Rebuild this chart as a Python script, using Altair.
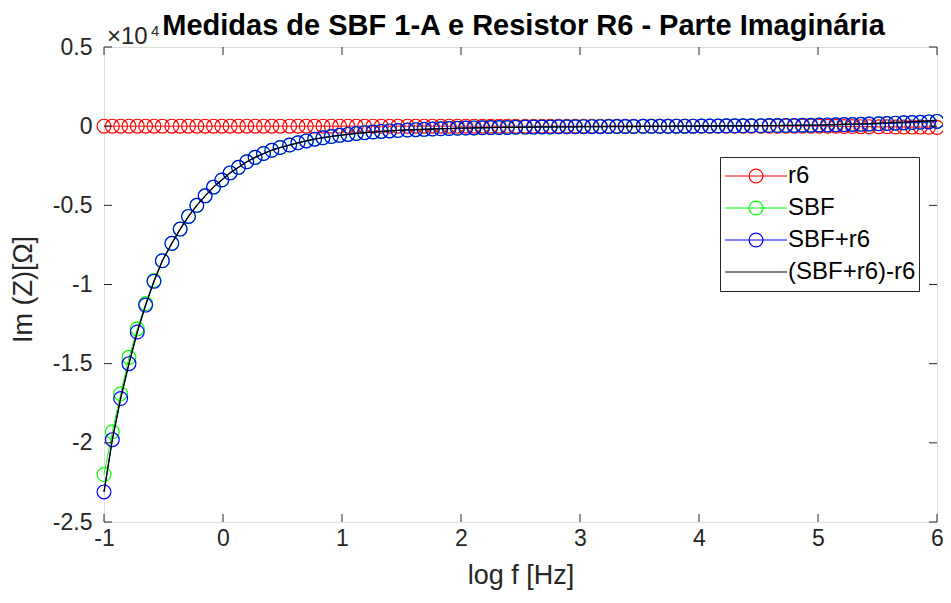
import altair as alt
import pandas as pd

# ---------------- data (Im(Z) in units of 10^4 Ohm) ----------------
log_f = [
    -1.00, -0.93, -0.86, -0.79, -0.72, -0.65, -0.58, -0.51, -0.43, -0.36,
    -0.29, -0.22, -0.15, -0.08, -0.01, 0.06, 0.13, 0.20, 0.27, 0.34,
    0.41, 0.48, 0.56, 0.63, 0.70, 0.77, 0.84, 0.91, 0.98, 1.05,
    1.12, 1.19, 1.26, 1.33, 1.40, 1.47, 1.55, 1.62, 1.69, 1.76,
    1.83, 1.90, 1.97, 2.04, 2.11, 2.18, 2.25, 2.32, 2.39, 2.46,
    2.54, 2.61, 2.68, 2.75, 2.82, 2.89, 2.96, 3.03, 3.10, 3.17,
    3.24, 3.31, 3.38, 3.45, 3.53, 3.60, 3.67, 3.74, 3.81, 3.88,
    3.95, 4.02, 4.09, 4.16, 4.23, 4.30, 4.37, 4.44, 4.52, 4.59,
    4.66, 4.73, 4.80, 4.87, 4.94, 5.01, 5.08, 5.15, 5.22, 5.29,
    5.36, 5.43, 5.51, 5.58, 5.65, 5.72, 5.79, 5.86, 5.93, 6.00,
]

im_r6 = [
    0.000, 0.000, 0.000, 0.000, 0.000, 0.000, 0.000, 0.000, 0.000, 0.000,
    0.000, 0.000, 0.000, 0.000, 0.000, 0.000, 0.000, 0.000, 0.000, 0.000,
    0.000, 0.000, 0.000, 0.000, 0.000, 0.000, 0.000, 0.000, 0.000, 0.000,
    0.000, 0.000, 0.000, 0.000, 0.000, 0.000, 0.000, 0.000, 0.000, 0.000,
    0.000, 0.000, 0.000, 0.000, 0.000, 0.000, 0.000, 0.000, 0.000, 0.000,
    0.000, 0.000, 0.000, 0.000, 0.000, 0.000, 0.000, 0.000, 0.000, 0.000,
    0.000, 0.000, 0.000, 0.000, 0.000, 0.000, 0.000, 0.000, 0.000, 0.000,
    0.000, 0.000, 0.000, 0.000, 0.000, 0.000, 0.000, 0.000, 0.000, 0.000,
    0.000, 0.000, 0.000, 0.000, 0.000, 0.000, -0.001, -0.001, -0.002, -0.002,
    -0.003, -0.003, -0.004, -0.004, -0.005, -0.005, -0.006, -0.006, -0.007, -0.008,
]

im_sbf = [
    -2.20, -1.93, -1.69, -1.46, -1.28, -1.12, -0.975, -0.85, -0.74, -0.65,
    -0.57, -0.50, -0.44, -0.385, -0.34, -0.295, -0.26, -0.225, -0.197, -0.173,
    -0.152, -0.135, -0.119, -0.105, -0.093, -0.082, -0.073, -0.065, -0.058, -0.052,
    -0.046, -0.041, -0.037, -0.033, -0.030, -0.027, -0.024, -0.022, -0.020, -0.018,
    -0.016, -0.015, -0.013, -0.012, -0.011, -0.010, -0.009, -0.008, -0.008, -0.007,
    -0.006, -0.006, -0.005, -0.005, -0.004, -0.004, -0.004, -0.003, -0.003, -0.003,
    -0.002, -0.002, -0.002, -0.002, -0.001, -0.001, -0.001, -0.001, 0.000, 0.000,
    0.000, 0.001, 0.001, 0.001, 0.002, 0.002, 0.002, 0.003, 0.003, 0.004,
    0.004, 0.005, 0.005, 0.006, 0.006, 0.007, 0.008, 0.009, 0.010, 0.011,
    0.012, 0.013, 0.015, 0.017, 0.019, 0.021, 0.023, 0.025, 0.027, 0.030,
]

im_sbf_r6 = [
    -2.31, -1.98, -1.72, -1.50, -1.30, -1.13, -0.98, -0.85, -0.74, -0.65,
    -0.57, -0.50, -0.44, -0.385, -0.34, -0.295, -0.26, -0.225, -0.197, -0.173,
    -0.152, -0.135, -0.119, -0.105, -0.093, -0.082, -0.073, -0.065, -0.058, -0.052,
    -0.046, -0.041, -0.037, -0.033, -0.030, -0.027, -0.024, -0.022, -0.020, -0.018,
    -0.016, -0.015, -0.013, -0.012, -0.011, -0.010, -0.009, -0.008, -0.008, -0.007,
    -0.006, -0.006, -0.005, -0.005, -0.004, -0.004, -0.004, -0.003, -0.003, -0.003,
    -0.002, -0.002, -0.002, -0.002, -0.001, -0.001, -0.001, -0.001, 0.000, 0.000,
    0.000, 0.001, 0.001, 0.001, 0.002, 0.002, 0.002, 0.003, 0.003, 0.004,
    0.004, 0.005, 0.005, 0.006, 0.006, 0.007, 0.008, 0.009, 0.010, 0.011,
    0.012, 0.013, 0.015, 0.017, 0.019, 0.021, 0.023, 0.025, 0.027, 0.030,
]

# (SBF+r6) - r6
im_diff = [a - b for a, b in zip(im_sbf_r6, im_r6)]

series_names = ["r6", "SBF", "SBF+r6", "(SBF+r6)-r6"]
series_colors = ["#ff0000", "#00ff00", "#0000ff", "#000000"]
x_ticks = [-1, 0, 1, 2, 3, 4, 5, 6]
y_ticks = [-2.5, -2, -1.5, -1, -0.5, 0, 0.5]
exponent_text = ["\u00d710", "4"]
title_text = "Medidas de SBF 1-A e Resistor R6 - Parte Imagin\u00e1ria"

rows = []
for name, vals in zip(series_names, [im_r6, im_sbf, im_sbf_r6, im_diff]):
    for xv, yv in zip(log_f, vals):
        rows.append({"logf": xv, "im": yv, "series": name})
df = pd.DataFrame(rows)

# ---------------- styling ----------------
W, H = 833, 475
FONT = "Liberation Sans"
AX = "#262626"
TICK = 8
TICK_FS = 23
AXT_FS = 27
LEG_FS = 24

minus_expr = "datum.value < 0 ? '-' + format(-datum.value, '~g') : format(datum.value, '~g')"

x_scale = alt.Scale(domain=[-1, 6], nice=False, zero=False)
y_scale = alt.Scale(domain=[-2.5, 0.5], nice=False, zero=False)

x_axis = alt.Axis(
    values=x_ticks, ticks=False, domain=False, grid=False, labelFlush=False,
    labelFont=FONT, labelFontSize=TICK_FS, labelColor=AX, labelPadding=5,
    labelExpr=minus_expr,
    title="log f [Hz]", titleFont=FONT, titleFontSize=AXT_FS, titleFontWeight="normal",
    titleColor=AX, titleX=W / 2, titleY=61, titleAlign="center",
    titleBaseline="alphabetic",
)
y_axis = alt.Axis(
    values=y_ticks, ticks=False, domain=False, grid=False, labelFlush=False,
    labelFont=FONT, labelFontSize=TICK_FS, labelColor=AX, labelPadding=12,
    labelExpr=minus_expr,
    title="Im (Z)[\u03a9]", titleFont=FONT, titleFontSize=AXT_FS, titleFontWeight="normal",
    titleColor=AX, titleX=-81, titleY=242, titleAngle=270, titleAlign="center",
    titleBaseline="middle",
)

X = alt.X("logf:Q", scale=x_scale, axis=x_axis)
Y = alt.Y("im:Q", scale=y_scale, axis=y_axis)

LEG_X, LEG_Y = 616, 110

# framed legend: line symbols only (empty labels; the offset sets the frame width)
line_legend = alt.Legend(
    orient="none", legendX=LEG_X, legendY=LEG_Y, title=None,
    symbolType="M-3.875,0H3.875", symbolSize=256, symbolStrokeWidth=1,
    symbolOffset=17, labelOffset=144, labelFont=FONT, labelFontSize=LEG_FS,
    labelExpr="''", rowPadding=8, padding=7,
    fillColor="#ffffff", strokeColor=AX, zindex=1,
)
# unframed legend on top: circle markers and the visible labels
point_legend = alt.Legend(
    orient="none", legendX=LEG_X, legendY=LEG_Y, title=None,
    symbolType="circle", symbolSize=190, symbolStrokeWidth=1.2,
    symbolFillColor="transparent", symbolOffset=17, labelOffset=20,
    labelFont=FONT, labelFontSize=LEG_FS, labelColor="#000000",
    rowPadding=8, padding=7, zindex=2,
)

# marker legend keys carry a trailing space so the two legends stay separate
marker_keys = [n + " " for n in series_names]
color_scale = alt.Scale(domain=series_names, range=series_colors)
stroke_scale = alt.Scale(domain=marker_keys, range=series_colors[:3] + ["transparent"])

base = alt.Chart(df)
layers = []
for name in series_names:
    sub = base.transform_filter(alt.datum.series == name)
    layers.append(
        sub.mark_line(strokeWidth=1 if name != "(SBF+r6)-r6" else 1.3).encode(
            x=X, y=Y, order="logf:Q",
            color=alt.Color("series:N", scale=color_scale, legend=line_legend),
        )
    )
    if name != "(SBF+r6)-r6":
        layers.append(
            sub.transform_calculate(mkey="datum.series + ' '")
            .mark_point(filled=False, size=190, strokeWidth=1.2, opacity=1).encode(
                x=X, y=Y,
                stroke=alt.Stroke("mkey:N", scale=stroke_scale, legend=point_legend),
            )
        )

# inward ticks on all four sides (MATLAB box style)
xt = pd.DataFrame({"logf": x_ticks})
yt = pd.DataFrame({"im": y_ticks})
tick_layers = [
    alt.Chart(xt).mark_rule(color=AX, strokeWidth=1).encode(x=X, y=alt.value(H), y2=alt.value(H - TICK)),
    alt.Chart(xt).mark_rule(color=AX, strokeWidth=1).encode(x=X, y=alt.value(0), y2=alt.value(TICK)),
    alt.Chart(yt).mark_rule(color=AX, strokeWidth=1).encode(y=Y, x=alt.value(0), x2=alt.value(TICK)),
    alt.Chart(yt).mark_rule(color=AX, strokeWidth=1).encode(y=Y, x=alt.value(W), x2=alt.value(W - TICK)),
]

exp_df = pd.DataFrame({"t": [exponent_text[0]]})
sup_df = pd.DataFrame({"t": [exponent_text[1]]})
text_layers = [
    alt.Chart(exp_df).mark_text(align="left", baseline="alphabetic", font=FONT,
                                fontSize=24, color=AX).encode(
        text="t:N", x=alt.value(3), y=alt.value(-3)),
    alt.Chart(sup_df).mark_text(align="left", baseline="alphabetic", font=FONT,
                                fontSize=15, color=AX).encode(
        text="t:N", x=alt.value(47), y=alt.value(-11)),
]

chart = alt.layer(*layers, *tick_layers, *text_layers).properties(
    width=W, height=H,
    title=alt.TitleParams(
        text=title_text, font=FONT, fontSize=29, fontWeight="bold", color="#000000",
        anchor="middle", frame="group", baseline="alphabetic", offset=0, dy=40, dx=3,
    ),
    autosize=alt.AutoSizeParams(type="none"),
    padding={"left": 96, "top": 39, "right": 6, "bottom": 68},
).configure_view(stroke=AX, strokeWidth=1).configure(background="#ffffff")

chart.save("out.html", embed_options={"renderer": "svg", "actions": False})
